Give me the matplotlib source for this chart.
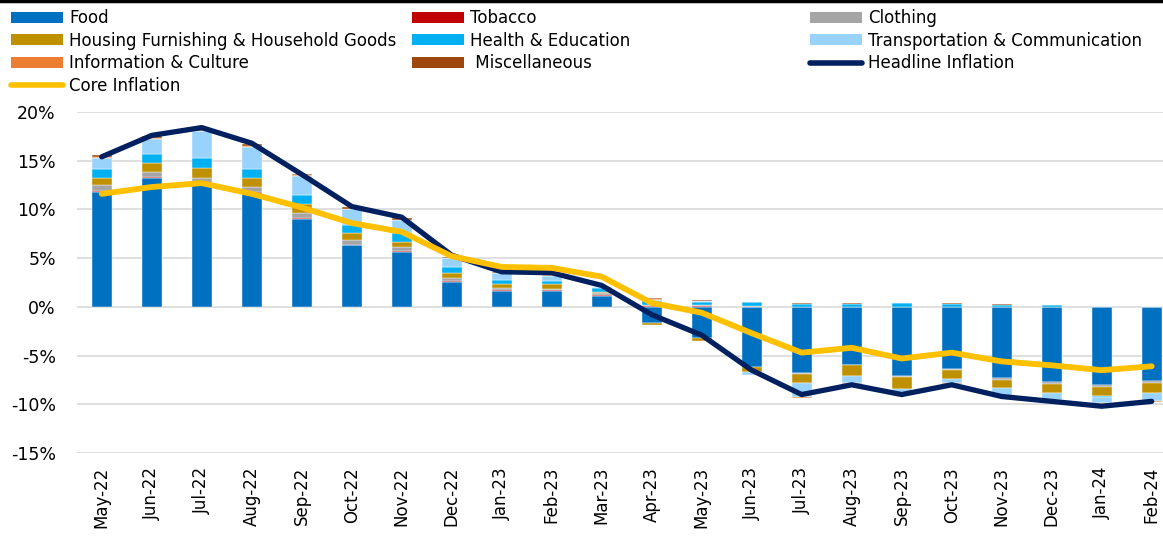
import numpy as np
import matplotlib
matplotlib.use("Agg")
import matplotlib.pyplot as plt
from matplotlib.patches import Patch
from matplotlib.lines import Line2D

plt.rcParams['font.family'] = ['DejaVu Sans']

months = ['May-22', 'Jun-22', 'Jul-22', 'Aug-22', 'Sep-22', 'Oct-22', 'Nov-22',
          'Dec-22', 'Jan-23', 'Feb-23', 'Mar-23', 'Apr-23', 'May-23', 'Jun-23',
          'Jul-23', 'Aug-23', 'Sep-23', 'Oct-23', 'Nov-23', 'Dec-23', 'Jan-24', 'Feb-24']

# contributions to year-on-year inflation, percentage points
food = [11.8, 13.2, 12.6, 11.7, 9.0, 6.3, 5.6, 2.6, 1.65, 1.65, 1.15, -1.7, -3.2, -6.2,
        -6.8, -5.95, -7.1, -6.35, -7.35, -7.7, -8.0, -7.6]
tobacco = [0.1, 0.1, 0.1, 0.1, 0.1, 0.1, 0.1, 0.1, 0.05, 0.05, 0.05, 0.05, 0.05, 0.02,
           0.02, 0.02, 0.02, 0.02, 0.02, 0.02, 0.0, 0.0]
clothing = [0.6, 0.5, 0.5, 0.5, 0.5, 0.5, 0.45, 0.25, 0.25, 0.15, 0.25, 0.1, 0.1, 0.03,
            -0.05, -0.05, -0.05, -0.1, -0.2, -0.2, -0.25, -0.25]
housing = [0.7, 1.0, 1.1, 0.9, 1.0, 0.7, 0.5, 0.5, 0.35, 0.5, 0.05, -0.15, -0.35, -0.45,
           -1.0, -1.1, -1.25, -1.0, -0.75, -0.95, -0.95, -0.95]
health = [0.9, 0.9, 1.0, 0.9, 0.85, 0.8, 0.9, 0.6, 0.45, 0.35, 0.4, 0.4, 0.35, 0.4,
          0.3, 0.3, 0.35, 0.3, 0.22, 0.15, -0.02, 0.02]
transport = [1.2, 1.5, 2.8, 2.3, 2.0, 1.6, 1.35, 0.95, 0.75, 0.5, 0.15, 0.2, 0.1, -0.35,
             -1.45, -0.75, -0.4, -0.4, -0.85, -0.7, -0.65, -0.85]
info = [0.1, 0.1, 0.0, 0.1, 0.05, 0.05, 0.05, 0.05, 0.02, 0.02, 0.0, 0.1, 0.05, 0.02,
        -0.1, -0.05, -0.1, -0.05, -0.1, -0.05, -0.05, -0.1]
misc = [0.2, 0.2, 0.1, 0.2, 0.15, 0.15, 0.15, 0.05, 0.03, 0.03, 0.0, 0.1, 0.05, 0.03,
        0.05, 0.03, 0.03, 0.03, 0.02, 0.03, 0.0, 0.0]

headline = [15.4, 17.6, 18.4, 16.8, 13.6, 10.3, 9.2, 5.3, 3.6, 3.5, 2.2, -0.8, -2.9, -6.5,
            -9.0, -8.0, -9.0, -8.0, -9.2, -9.7, -10.2, -9.7]
core = [11.6, 12.3, 12.7, 11.6, 10.2, 8.6, 7.7, 5.2, 4.1, 4.0, 3.1, 0.4, -0.6, -2.7,
        -4.7, -4.2, -5.3, -4.7, -5.6, -6.0, -6.5, -6.1]

groups = [
    ('Food', food, '#0070C0'),
    ('Tobacco', tobacco, '#C00000'),
    ('Clothing', clothing, '#A5A5A5'),
    ('Housing Furnishing & Household Goods', housing, '#BF9000'),
    ('Health & Education', health, '#00B0F0'),
    ('Transportation & Communication', transport, '#99D3FC'),
    ('Information & Culture', info, '#ED7D31'),
    (' Miscellaneous', misc, '#9E480E'),
]

fig = plt.figure(figsize=(11.63, 5.36), dpi=100)
ax = fig.add_axes([76.7 / 1163, 1 - 453 / 536, 1 - 76.7 / 1163, (453 - 112) / 536])

x = np.arange(len(months))
pos_base = np.zeros(len(months))
neg_base = np.zeros(len(months))
handles = {}
for name, vals, color in groups:
    v = np.array(vals)
    bottom = np.where(v >= 0, pos_base, neg_base)
    ax.bar(x, v, 0.4, bottom=bottom, color=color, edgecolor='white', linewidth=0.3, zorder=2)
    pos_base += np.clip(v, 0, None)
    neg_base += np.clip(v, None, 0)
    handles[name] = Patch(facecolor=color, edgecolor='none')

ax.plot(x, headline, color='#002060', lw=3.8, solid_capstyle='round', zorder=3)
ax.plot(x, core, color='#FFC000', lw=4.2, solid_capstyle='round', zorder=4)

ax.set_ylim(-15, 20)
ax.set_xlim(-0.5, -0.5 + (1163 - 76.7) / 50)
ax.set_yticks(np.arange(-15, 21, 5))
ax.set_yticklabels([f'{t}%' for t in range(-15, 21, 5)], fontsize=12.5)
ax.set_xticks(x)
ax.set_xticklabels(months, rotation=90, fontsize=12)
ax.tick_params(length=0, axis='y', pad=15)
ax.tick_params(length=0, axis='x', pad=10)
ax.grid(axis='y', color='#D9D9D9', lw=1.2, zorder=0)
ax.set_axisbelow(True)
for s in ax.spines.values():
    s.set_visible(False)

line_h = Line2D([], [], color='#002060', lw=4, solid_capstyle='round')
line_c = Line2D([], [], color='#FFC000', lw=4, solid_capstyle='round')

names = [g[0] for g in groups]
col1 = [(handles[names[0]], names[0]), (handles[names[3]], names[3]),
        (handles[names[6]], names[6]), (line_c, 'Core Inflation')]
col2 = [(handles[names[1]], names[1]), (handles[names[4]], names[4]),
        (handles[names[7]], names[7])]
col3 = [(handles[names[2]], names[2]), (handles[names[5]], names[5]),
        (line_h, 'Headline Inflation')]

for col, xpos in [(col1, 11), (col2, 412), (col3, 810)]:
    fig.legend([h for h, _ in col], [t for _, t in col], loc='upper left',
               bbox_to_anchor=(xpos / 1163, 1 - 9 / 536), frameon=False, fontsize=12,
               handlelength=3.1, handleheight=0.65, handletextpad=0.4,
               labelspacing=0.28, borderpad=0, borderaxespad=0)

fig.add_artist(Line2D([0, 1], [1 - 1 / 536, 1 - 1 / 536], transform=fig.transFigure,
                      color='black', lw=2.5))

fig.savefig('out.png', dpi=100)
